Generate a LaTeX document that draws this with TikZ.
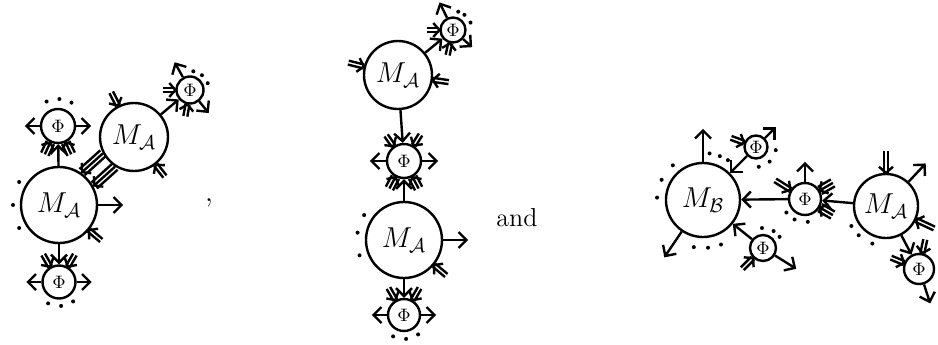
\documentclass[tikz,border=0pt]{standalone}
\usetikzlibrary{arrows.meta,calc}

\tikzset{
  grande/.style={circle,draw,minimum size=#1,inner sep=0pt,font=\Large},
  piccolo/.style={circle,draw,minimum size=#1,inner sep=0pt,font=\small},
  freccia/.style={-{Straight Barb[length=4pt,width=8pt]}},
}

% freccia entrante a piu' linee: nodo, angolo, linee, lunghezza, spostamento
\newcommand{\entra}[5]{%
  \coordinate (pt) at ($(#1.#2)+(#2+90:#5)$);
  \foreach \k in {1,...,#3}
    \draw ($(pt)+(#2+90:{(\k-(#3+1)/2)*4})$) -- ++(#2:#4);
  \draw ($(pt)+(#2:6)+(#2+90:7)$) -- (pt) -- ($(pt)+(#2:6)+(#2-90:7)$);
}
% freccia uscente: nodo, angolo, lunghezza
\newcommand{\esce}[3]{\draw[freccia] (#1.#2) -- ++(#2:#3);}
% puntini: nodo, raggio, angoli
\newcommand{\puntini}[3]{\foreach \a in {#3} \fill ($(#1)+(\a:#2)$) circle (2);}

\begin{document}
\begin{tikzpicture}[x=0.5pt,y=0.5pt,line width=1.2pt]
  \useasboundingbox (0,0) rectangle (938,344);

  % --- primo diagramma ---
  \node[grande=38pt] (m1) at (59,139) {$M_{\mathcal{A}}$};
  \node[grande=34pt] (m2) at (134,207) {$M_{\mathcal{A}}$};
  \node[piccolo=17pt] (f1) at (58,218) {$\Phi$};
  \node[piccolo=16.5pt] (f2) at (59,62) {$\Phi$};
  \node[piccolo=13.5pt] (f3) at (190,254) {$\Phi$};

  \puntini{m1}{46}{150,180,210}
  \esce{m1}{0}{25}
  \entra{m1}{320}{2}{16}{0}
  \entra{m1}{42}{3}{28}{9}
  \entra{m1}{42}{3}{28}{-9}

  \draw[freccia] (m1) -- (f1);
  \entra{f1}{245}{3}{13}{0}
  \entra{f1}{295}{3}{13}{0}
  \esce{f1}{180}{15}
  \esce{f1}{0}{15}
  \puntini{f1}{27}{115,87,60}

  \draw[freccia] (m1) -- (f2);
  \entra{f2}{120}{2}{14}{0}
  \entra{f2}{60}{2}{14}{0}
  \esce{f2}{180}{15}
  \esce{f2}{0}{15}
  \puntini{f2}{24}{243,275,306}

  \entra{m2}{117}{2}{15}{0}
  \entra{m2}{308}{2}{15}{0}
  \draw[freccia] (m2) -- (f3);
  \entra{f3}{180}{2}{12}{0}
  \entra{f3}{260}{2}{12}{0}
  \esce{f3}{119}{17}
  \esce{f3}{309}{15}
  \puntini{f3}{19}{80,51,21}

  \node[font=\Large] (virgola) at (209,141) {,};

  % --- secondo diagramma ---
  \node[grande=34pt] (m3) at (398,269) {$M_{\mathcal{A}}$};
  \node[piccolo=12.5pt] (f4) at (453,314) {$\Phi$};
  \node[piccolo=17pt] (f5) at (404,183) {$\Phi$};
  \node[grande=38pt] (m4) at (404,104) {$M_{\mathcal{A}}$};
  \node[piccolo=16pt] (f6) at (404,29) {$\Phi$};

  \entra{m3}{166}{2}{16}{0}
  \entra{m3}{352}{2}{16}{0}
  \draw[freccia] (m3) -- (f4);
  \entra{f4}{180}{2}{12}{0}
  \entra{f4}{258}{2}{12}{0}
  \esce{f4}{116}{17}
  \esce{f4}{318}{12}
  \puntini{f4}{19}{74,53,23}

  \draw[freccia] (m3) -- (f5);
  \entra{f5}{125}{2}{13}{0}
  \entra{f5}{58}{2}{13}{0}
  \esce{f5}{180}{16}
  \esce{f5}{0}{16}
  \draw[freccia] (m4) -- (f5);
  \entra{f5}{242}{3}{13}{0}
  \entra{f5}{298}{3}{13}{0}

  \puntini{m4}{47}{148,171,199}
  \esce{m4}{0}{25}
  \entra{m4}{320}{2}{16}{0}
  \draw[freccia] (m4) -- (f6);
  \entra{f6}{120}{2}{14}{0}
  \entra{f6}{60}{2}{14}{0}
  \esce{f6}{180}{15}
  \esce{f6}{0}{15}
  \puntini{f6}{24}{243,275,306}

  \node[font=\fontsize{13}{15}\selectfont] (and) at (517,126) {and};

  % --- terzo diagramma ---
  \node[grande=37pt] (mb) at (703,144) {$M_{\mathcal{B}}$};
  \node[piccolo=16pt] (f7) at (805,145) {$\Phi$};
  \node[grande=32pt] (ma) at (886,138) {$M_{\mathcal{A}}$};
  \node[piccolo=11.5pt] (f8) at (756,197) {$\Phi$};
  \node[piccolo=13pt] (f9) at (763,96) {$\Phi$};
  \node[piccolo=15pt] (f10) at (919,75) {$\Phi$};

  \esce{mb}{90}{33}
  \esce{mb}{236}{31}
  \puntini{mb}{46}{131,154,177}
  \puntini{mb}{47}{82,69,58}
  \puntini{mb}{48}{259,276,292}
  \draw[freccia] (f7) -- (mb);
  \draw[freccia] (f8) -- (mb);
  \draw[freccia] (f9) -- (mb);

  \entra{f8}{160}{2}{14}{0}
  \esce{f8}{45}{15}
  \puntini{f8}{20}{351,313,278}

  \entra{f9}{225}{2}{15}{0}
  \esce{f9}{328}{25}
  \puntini{f9}{20}{93,58,34}

  \esce{f7}{90}{20}
  \entra{f7}{148}{2}{18}{0}
  \draw[freccia] (ma) -- (f7);
  \entra{f7}{30}{3}{15}{0}
  \entra{f7}{330}{3}{15}{0}
  \puntini{f7}{23}{216,243,277}

  \entra{ma}{90}{2}{22}{0}
  \esce{ma}{47}{25}
  \entra{ma}{335}{2}{20}{0}
  \puntini{ma}{40}{210,227,250}
  \draw[freccia] (ma) -- (f10);
  \entra{f10}{158}{2}{14}{0}
  \entra{f10}{78}{2}{14}{0}
  \esce{f10}{288}{20}

\end{tikzpicture}
\end{document}
